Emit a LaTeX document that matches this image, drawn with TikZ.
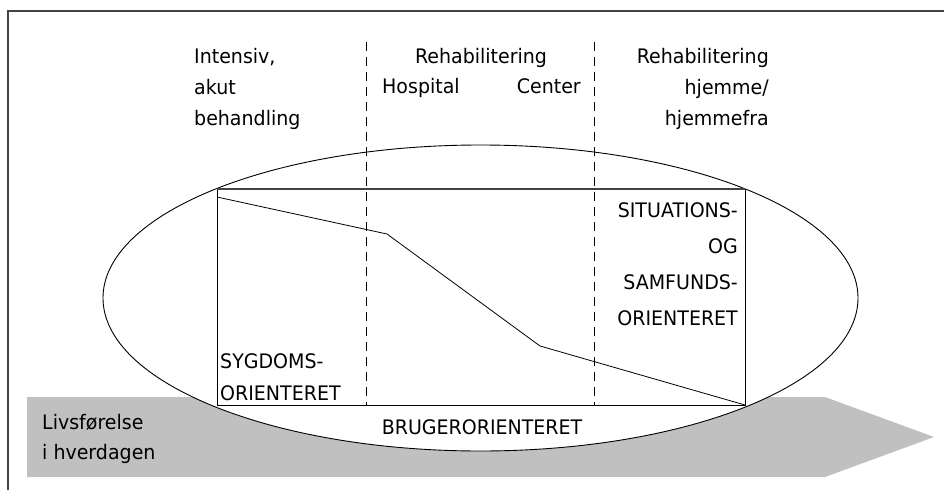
\documentclass[tikz,border=0pt]{standalone}
\usepackage{fontspec}
\setmainfont{DejaVu Sans}[FakeStretch=0.95]
\usetikzlibrary{positioning}

\definecolor{bandgray}{HTML}{C0C0C0}
\definecolor{framegray}{HTML}{444444}

\tikzset{
    lbl/.style={inner sep=0pt,font=\fontsize{20}{31}\selectfont},
    caps/.style={inner sep=0pt,font=\fontsize{20}{36}\selectfont},
    divider/.style={dashed,dash pattern=on 9pt off 6pt,line width=0.8pt},
}

\begin{document}
\begin{tikzpicture}[x=1pt,y=-1pt]
    \useasboundingbox (0,0) rectangle (944,490);
    % outer frame, only top and left visible
    \draw [framegray,line width=1.5pt] (8,490) -- (8,11) -- (944,11);
    % everyday life band
    \fill [bandgray] (27,397) -- (825,397) -- (934,437) -- (825,477) -- (27,477) -- cycle;
    \draw [fill=white,line width=0.9pt] (480.5,298) ellipse (377.5 and 153);
    % box with the shifting focus
    \coordinate (boxsw) at (217,405);
    \coordinate (boxne) at (745,189);
    \draw [line width=0.8pt] (217,189) -- (boxsw) -- (745,405) -- (boxne);
    \draw [framegray,line width=1.4pt] (217,189) -- (boxne);
    \draw [line width=0.8pt] (217,197) -- (387,234) -- (540,346) -- (745,405);
    \foreach \x in {366,594}{
        \draw [divider] (\x,42) -- (\x,405);
    }
    % column headings
    \node [lbl,anchor=north west,align=left] (acute) at (194,48) {Intensiv,\\akut\\behandling};
    \node [lbl,anchor=north] (rehab) at (481,48) {Rehabilitering};
    \node [lbl,anchor=north west] (hosp) at (382,78) {Hospital};
    \node [lbl,anchor=north east] (center) at (581,78) {Center};
    \node [lbl,anchor=north east,align=right] (home) at (769,48) {Rehabilitering\\hjemme/\\hjemmefra};
    % texts in the ellipse
    \node [caps,anchor=north east,align=right] (situ) at (738,202) {SITUATIONS-\\OG\\SAMFUNDS-\\ORIENTERET};
    \node [caps,anchor=south west,align=left,font=\fontsize{20}{32}\selectfont] (disease) at (220,401) {SYGDOMS-\\ORIENTERET};
    \node [caps] (user) at (482,427) {BRUGERORIENTERET};
    \node [lbl,anchor=west,align=left,font=\fontsize{20}{30}\selectfont] (life) at (42,439) {Livsførelse\\i hverdagen};
\end{tikzpicture}
\end{document}
